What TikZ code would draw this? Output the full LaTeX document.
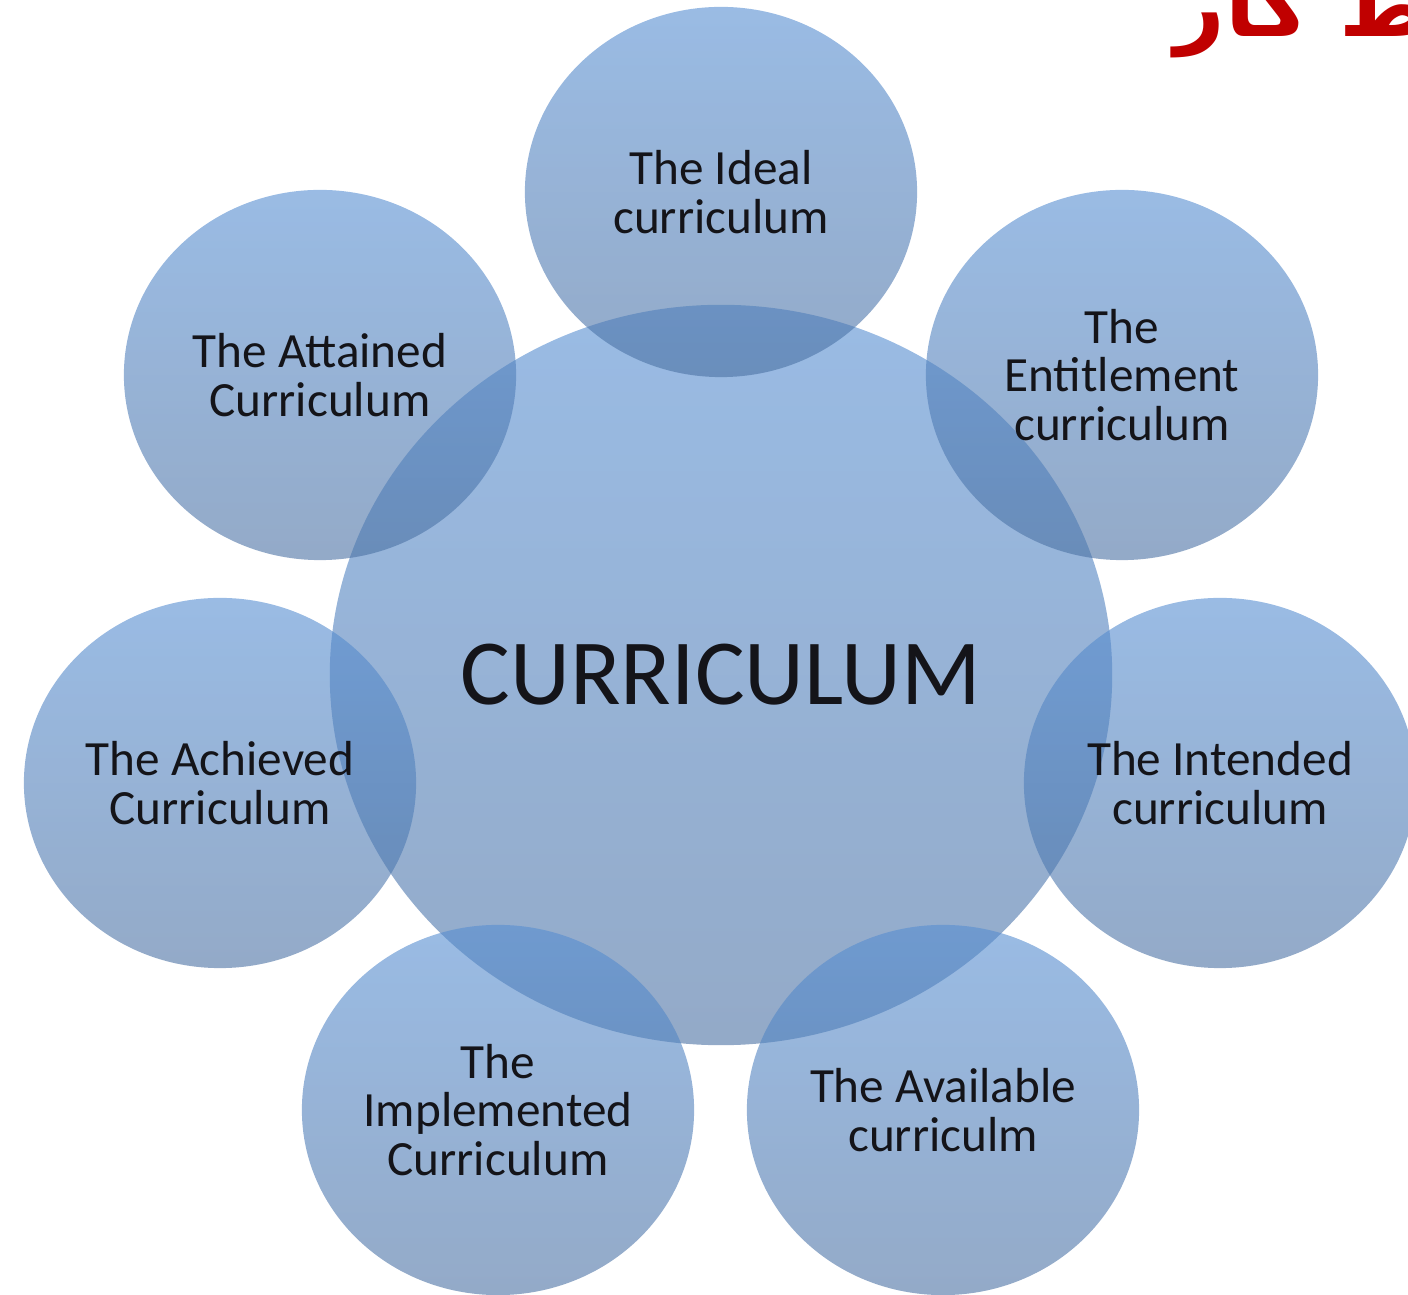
\documentclass[tikz,border=0pt]{standalone}
\usepackage{fontspec}
\setmainfont{Carlito}
\newfontfamily\arabicfont[Script=Arabic]{DejaVu Sans}
\TeXXeTstate=1
\usepackage{tikz}
\usetikzlibrary{shapes.geometric, positioning}
\definecolor{curtop}{RGB}{86,142,210}
\definecolor{curbot}{RGB}{75,113,163}
\definecolor{titlered}{RGB}{192,0,0}
\definecolor{labeltext}{RGB}{20,20,25}

\begin{document}
\begin{tikzpicture}[x=0.01cm, y=-0.01cm,
    bubble/.style={ellipse,
                   inner sep=0pt,
                   top color=curtop,
                   bottom color=curbot,
                   draw=none,
                   fill opacity=0.6,
                   text opacity=1,
                   text=labeltext,
                   align=center},
    small/.style={bubble,
                  minimum width=3.92cm,
                  minimum height=3.70cm,
                  font=\fontsize{14}{13.9}\selectfont},
    big/.style={bubble,
                minimum width=7.82cm,
                minimum height=7.40cm,
                font=\fontsize{26.5}{30}\selectfont}]
    \useasboundingbox (0,0) rectangle (1408,1295);
    \clip (0,0) rectangle (1408,1295);

    % Add the heading (cut at the page edge)
        \node[anchor=base west,
              text=titlered,
              font=\fontsize{25}{30}\selectfont] (head) at (1162,37)
              {\arabicfont\bfseries\beginR محیط کار\endR};

    % Add the middle bubble
        \node[big] (curr) at (721,675) {CURRICULUM};

    % Add the bubbles around it
        \node[small] (ideal) at (721,192) {The Ideal\\curriculum};
        \node[small] (entitle) at (1122,375) {The\\Entitlement\\curriculum};
        \node[small] (intend) at (1220,783) {The Intended\\curriculum};
        \node[small] (avail) at (943,1110) {The Available\\curriculm};
        \node[small] (implem) at (498,1110) {The\\Implemented\\Curriculum};
        \node[small] (achieve) at (220,783) {The Achieved\\Curriculum};
        \node[small] (attain) at (320,375) {The Attained\\Curriculum};
\end{tikzpicture}
\end{document}
